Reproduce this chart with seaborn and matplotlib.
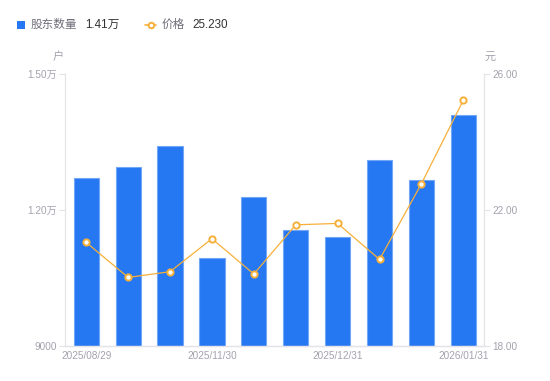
import numpy as np
import pandas as pd
import seaborn as sns
import matplotlib.pyplot as plt
from matplotlib.patches import Rectangle
from matplotlib.lines import Line2D
from matplotlib.ticker import FuncFormatter

# --- data ---
dates = ['2025/08/29', '2025/09/30', '2025/10/31', '2025/11/30', '2025/12/10',
         '2025/12/20', '2025/12/31', '2026/01/10', '2026/01/20', '2026/01/31']
holders = [12700, 12950, 13420, 10940, 12280, 11550, 11410, 13090, 12660, 14100]
price = [21.04, 20.01, 20.18, 21.15, 20.11, 21.56, 21.60, 20.54, 22.77, 25.23]
shown_ticks = [0, 3, 6, 9]
left_ticks = [9000, 12000, 15000]
right_ticks = [18.0, 22.0, 26.0]

BLUE = '#2677F2'
ORANGE = '#F6B03A'
AXIS = '#E3E3E8'
TICK_TXT = '#A2A2AE'

sns.set_theme(style="white")
plt.rcParams['font.family'] = ['Liberation Sans', 'Noto Sans CJK SC', 'DejaVu Sans']

df = pd.DataFrame({'date': dates, 'holders': holders, 'price': price, 'pos': np.arange(len(dates))})

fig = plt.figure(figsize=(5.5, 3.81), dpi=100)
ax = fig.add_axes([65.3 / 550, 1 - 345.7 / 381, (484.3 - 65.3) / 550, (345.7 - 74) / 381])

sns.barplot(data=df, x='date', y='holders', color=BLUE, saturation=1, width=0.6,
            edgecolor='#72A6F7', linewidth=0.8, ax=ax)
ax.set_ylim(9000, 15000)
ax.set_yticks(left_ticks)
ax.yaxis.set_major_formatter(FuncFormatter(lambda v, p: f'{v / 10000:.2f}万' if v >= 10000 else f'{v:.0f}'))
ax.set_xticks(shown_ticks)
ax.set_xticklabels([dates[i] for i in shown_ticks])
ax.set_xlabel('')
ax.set_ylabel('')

ax2 = ax.twinx()
sns.lineplot(data=df, x='pos', y='price', color=ORANGE, linewidth=0.9, marker='o',
             markersize=4.5, markerfacecolor='white', markeredgecolor=ORANGE,
             markeredgewidth=1.4, ax=ax2)
ax2.set_ylim(18, 26)
ax2.set_yticks(right_ticks)
ax2.yaxis.set_major_formatter(FuncFormatter(lambda v, p: f'{v:.2f}'))
ax2.set_xlabel('')
ax2.set_ylabel('')
ax.set_xlim(-0.5, len(dates) - 0.5)

for a in (ax, ax2):
    for s in a.spines.values():
        s.set_color(AXIS)
        s.set_linewidth(0.9)
    a.spines['top'].set_visible(False)
    a.grid(False)
ax.spines['right'].set_visible(False)
ax2.spines['left'].set_visible(False)
ax.tick_params(axis='y', length=4, width=0.8, color=AXIS, labelcolor=TICK_TXT, labelsize=7.2, pad=2)
ax.tick_params(axis='x', length=0, labelcolor=TICK_TXT, labelsize=7.2, pad=4)
ax2.tick_params(axis='y', length=4, width=0.8, color=AXIS, labelcolor=TICK_TXT, labelsize=7.2, pad=2)

# unit labels
fig.text(58 / 550, 1 - 57 / 381, '户', color=TICK_TXT, fontsize=8, ha='center', va='center')
fig.text(490 / 550, 1 - 57 / 381, '元', color=TICK_TXT, fontsize=8, ha='center', va='center')

# legend
ly = 1 - 25 / 381
fig.add_artist(Rectangle((16.5 / 550, ly - 4.2 / 381), 8.5 / 550, 8.5 / 381, transform=fig.transFigure,
                         facecolor=BLUE, edgecolor='none'))
fig.text(31 / 550, ly, '股东数量', color='#6F6F7A', fontsize=8.4, va='center')
fig.text(85 / 550, ly, f'{holders[-1] / 10000:.2f}万', color='#333333', fontsize=8.4, va='center')
fig.add_artist(Line2D([145 / 550, 156 / 550], [ly, ly], transform=fig.transFigure, color=ORANGE,
                      linewidth=1.2))
fig.add_artist(Line2D([150.5 / 550], [ly], transform=fig.transFigure, marker='o', markersize=4,
                      markerfacecolor='white', markeredgecolor=ORANGE, markeredgewidth=1.4))
fig.text(161.5 / 550, ly, '价格', color='#6F6F7A', fontsize=8.4, va='center')
fig.text(192 / 550, ly, f'{price[-1]:.3f}', color='#333333', fontsize=8.4, va='center')

fig.savefig('out.png', dpi=100)
